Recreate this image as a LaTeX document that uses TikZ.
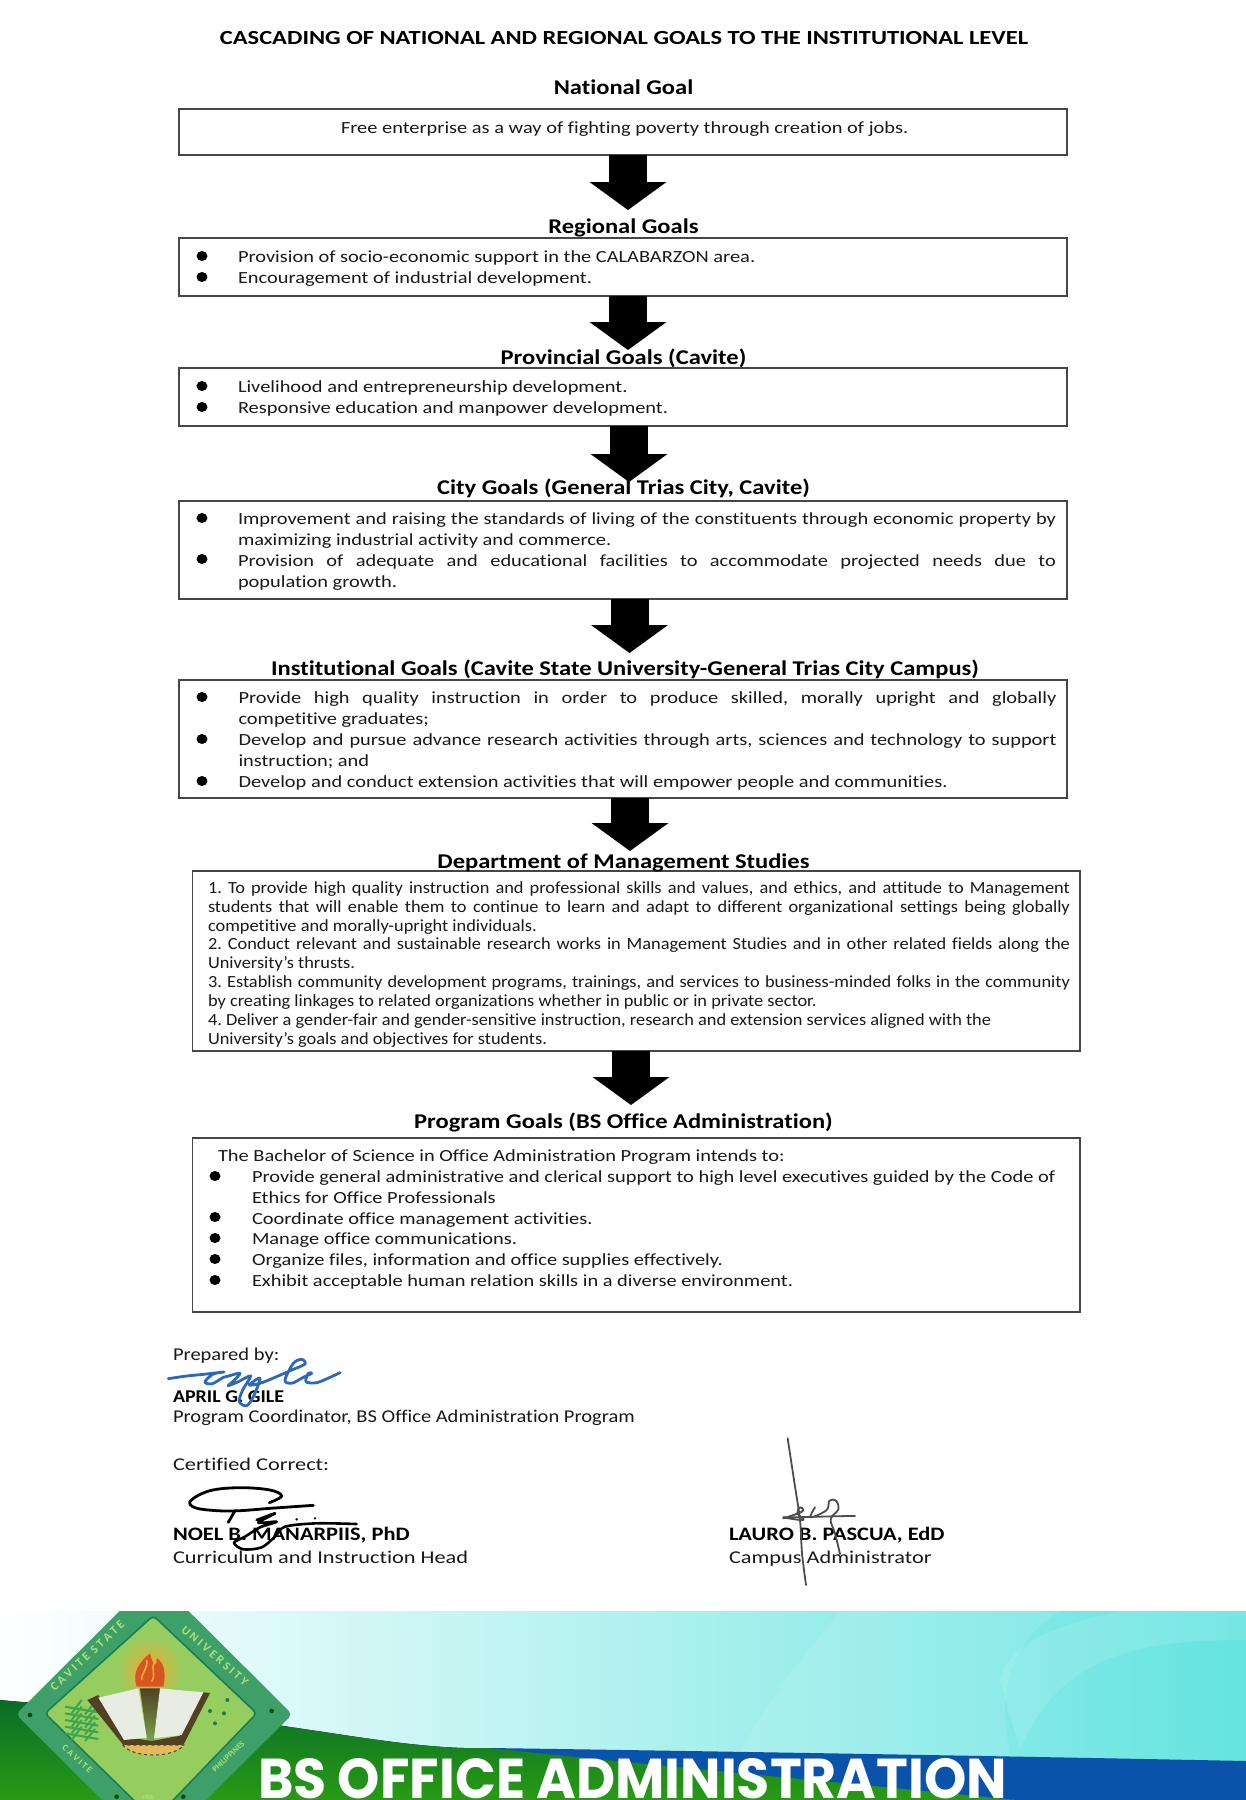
\documentclass[tikz,border=0pt]{standalone}
\usepackage{fontspec}
\usepackage{graphicx}
\usetikzlibrary{arrows.meta,calc}
\newfontfamily\cbody[FakeStretch=1.2,Ligatures=NoCommon]{Carlito}
\newfontfamily\cdept[FakeStretch=1.08,Ligatures=NoCommon]{Carlito}
\newfontfamily\chead[FakeStretch=1.167,Ligatures=NoCommon]{Carlito}
\newfontfamily\ctitle[FakeStretch=1.224,Ligatures=NoCommon]{Carlito}
\newfontfamily\csig[FakeStretch=1.14,Ligatures=NoCommon]{Carlito}
\newfontfamily\csigw[FakeStretch=1.24,Ligatures=NoCommon]{Carlito}
\newfontfamily\csigb[FakeStretch=1.18,Ligatures=NoCommon]{Carlito}
\newfontfamily\csiga[FakeStretch=1.11,Ligatures=NoCommon]{Carlito}
\newfontfamily\cplain{Carlito}
\newfontfamily\bannerf{Poppins}
\AtBeginDocument{\frenchspacing}
\definecolor{boxline}{RGB}{70,70,70}
\definecolor{ring}{RGB}{62,160,104}
\definecolor{ringdark}{RGB}{25,125,85}
\definecolor{innergreen}{RGB}{150,205,95}
\definecolor{ringtext}{RGB}{175,225,120}
\definecolor{aquaR}{RGB}{100,228,224}
\definecolor{aquaM}{RGB}{205,250,246}
\definecolor{hillT}{RGB}{10,108,40}
\definecolor{hillB}{RGB}{40,155,20}
\definecolor{bandblue}{RGB}{10,82,170}
\definecolor{sigblue}{RGB}{45,105,180}
\definecolor{sunor}{RGB}{245,170,45}
\definecolor{flame}{RGB}{215,85,35}
\definecolor{bookdark}{RGB}{80,65,35}
\definecolor{bookpage}{RGB}{232,236,226}
\definecolor{gearc}{RGB}{230,185,90}
\definecolor{leaf}{RGB}{60,165,80}
\newcounter{tln}
\newcommand\bfs{\fontsize{17}{20}\selectfont\cbody}
\newcommand\dfs{\fontsize{17}{20}\selectfont\cdept}
\newcommand\tl[3]{\stepcounter{tln}\node[txt] (t\thetln) at (#1,#2) {#3};}
\newcommand\jl[4]{\stepcounter{tln}\node[txt] (t\thetln) at (#1,#2) {\makebox[#3pt][s]{#4}};}
\newcommand\dl[3]{\stepcounter{tln}\node[txt,font=\dfs] (t\thetln) at (#1,#2) {#3};}
\newcommand\djl[4]{\stepcounter{tln}\node[txt,font=\dfs] (t\thetln) at (#1,#2) {\makebox[#3pt][s]{#4}};}
\newcommand\hd[3]{\node[headtxt] (#1) at (623.5,#2) {#3};}
\tikzset{
 txt/.style={anchor=base west,inner sep=0pt,outer sep=0pt,text=black!90,font=\bfs},
 headtxt/.style={anchor=base,inner sep=0pt,outer sep=0pt,text=black,font=\fontsize{21}{24}\selectfont\chead\bfseries},
 sigtxt/.style={anchor=base west,inner sep=0pt,outer sep=0pt,text=black!90,font=\fontsize{18}{20}\selectfont\csig},
 sigwide/.style={sigtxt,font=\fontsize{18}{20}\selectfont\csigw},
 sigbold/.style={sigtxt,text=black,font=\fontsize{19}{20}\selectfont\csigb\bfseries},
 sigbolda/.style={sigtxt,text=black,font=\fontsize{18}{20}\selectfont\csiga\bfseries},
 goalbox/.style={draw=boxline,line width=1.1pt,rectangle,inner sep=0pt,outer sep=0pt,fill=white},
 bigarrow/.style={line width=38pt,black,-{Triangle[width=77pt,length=28pt,line width=0pt]}},
 ringlabel/.style={inner sep=0pt,text=ringtext,font=\fontsize{12}{13}\selectfont\cplain\bfseries},
 bul/.style={fill=black}
}
\begin{document}
\begin{tikzpicture}[x=1pt,y=-1pt]
\useasboundingbox (0,0) rectangle (1246,1800);
\fill[white] (0,0) rectangle (1246,1800);
% --- banner
\begin{scope}
\clip (0,1611) rectangle (1246,1800);
\shade[left color=white,middle color=aquaM,right color=aquaR] (0,1611) rectangle (1246,1800);
\fill[white,opacity=.1] (840,1611) .. controls (800,1660) and (760,1710) .. (740,1755) -- (1010,1755) .. controls (1000,1700) and (1000,1650) .. (1060,1611) -- cycle;
\fill[white,opacity=.12] (1000,1680) .. controls (1010,1640) and (1060,1625) .. (1120,1611) -- (1246,1611) -- (1246,1640) .. controls (1150,1640) and (1060,1650) .. (1020,1750) -- cycle;
\fill[top color=hillT,bottom color=hillB] (0,1700) .. controls (60,1706) and (200,1712) .. (290,1727) .. controls (360,1737) and (430,1750) .. (490,1748) -- (540,1752) -- (1017,1800) -- (0,1800) -- cycle;
\fill[bandblue] (490,1748) .. controls (700,1751) and (1000,1756) .. (1246,1761) -- (1246,1800) -- (1017,1800) .. controls (920,1790) and (680,1768) .. (490,1748) -- cycle;
% logo, coordinates of a 3x crop
\begin{scope}[shift={(0,1605)},x=0.33333pt,y=-0.33333pt]
\fill[ring,rounded corners=5pt] (48,328) -- (462,-85) -- (877,328) -- (462,740) -- cycle;
\fill[innergreen,draw=ringdark,line width=1.6pt,rounded corners=4pt] (135,325) -- (460,32) -- (770,325) -- (462,645) -- cycle;
\shade[inner color=sunor,middle color=sunor!80!innergreen,outer color=innergreen] (450,195) circle (100);
\foreach \d in {(90,330),(815,318),(350,575),(550,575)} {\fill[black!70!green] \d circle (7);}
% leaves
\foreach \y in {310,330,350,370,390} {\draw[leaf,line width=2pt] (195,\y-5) -- (295,\y+12) (215,\y+15) -- (245,\y-25) (255,\y+18) -- (285,\y-18);}
% torch
\shade[top color=bookdark,bottom color=innergreen!80!black] (420,250) -- (482,250) -- (462,410) -- (442,410) -- cycle;
\fill[flame] (410,245) -- (490,245) .. controls (500,200) and (490,170) .. (470,160) .. controls (472,185) and (460,190) .. (450,145) .. controls (420,170) and (395,200) .. (410,245) -- cycle;
\draw[sunor,line width=1.6pt] (425,225) .. controls (425,200) and (445,190) .. (440,165) (455,230) .. controls (470,205) and (450,185) .. (465,170);
% book
\fill[bookdark] (262,285) -- (295,270) -- (375,395) -- (455,408) -- (540,392) -- (610,262) -- (630,264) -- (550,420) -- (370,420) -- cycle;
\fill[bookpage] (295,278) -- (415,250) -- (440,398) -- (372,405) -- cycle;
\fill[bookpage] (480,250) -- (610,262) -- (545,390) -- (462,400) -- cycle;
\fill[gearc,draw=bookdark,dashed,line width=1pt] (368,420) .. controls (400,460) and (520,460) .. (552,420) -- cycle;
\foreach \d in {(630,318),(672,325),(645,355),(682,285)} {\fill[ringdark] \d circle (6);}
\node[ringlabel,rotate=43] (lcav) at (262,152) {C A V I T E\ \ S T A T E};
\node[ringlabel,rotate=-41] (luni) at (645,152) {U N I V E R S I T Y};
\node[ringlabel,font=\fontsize{9}{10}\selectfont\cplain\bfseries,rotate=-42] (lca2) at (232,462) {C A V I T E};
\node[ringlabel,font=\fontsize{8}{9}\selectfont\cplain\bfseries,rotate=43] (lphi) at (685,455) {PHILIPPINES};
\node[ringlabel,font=\fontsize{6}{7}\selectfont\cplain\bfseries] (lyr) at (442,577) {1906};
\end{scope}
\end{scope}
\node[anchor=base west,inner sep=0pt,outer sep=0pt,text=white] (bannertext) at (258,1798) {\resizebox{749pt}{40pt}{\bannerf\bfseries BS OFFICE ADMINISTRATION}};
% --- title
\node[anchor=base,inner sep=0pt,text=black,font=\fontsize{20}{22}\selectfont\ctitle\bfseries] (title) at (624,44) {CASCADING OF NATIONAL AND REGIONAL GOALS TO THE INSTITUTIONAL LEVEL};
% --- coordinates of arrow tips
\coordinate (tip1) at (628,210);
\coordinate (tip2) at (628,350);
\coordinate (tip3) at (629,482);
\coordinate (tip4) at (629.5,653);
\coordinate (tip5) at (630,851);
\coordinate (tip6) at (631,1105);
% --- boxes
\node[goalbox,minimum width=888pt,minimum height=46pt] (b1) at (623,132) {};
\node[goalbox,minimum width=888pt,minimum height=58pt] (b2) at (623,267) {};
\node[goalbox,minimum width=888pt,minimum height=58pt] (b3) at (623,397) {};
\node[goalbox,minimum width=888pt,minimum height=98pt] (b4) at (623,550) {};
\node[goalbox,minimum width=888pt,minimum height=118pt] (b5) at (623,739) {};
\node[goalbox,minimum width=887.5pt,minimum height=180pt] (b6) at (636.25,961) {};
\node[goalbox,minimum width=887.5pt,minimum height=174pt] (b7) at (636.25,1225) {};
% --- arrows
\draw[bigarrow] (b1.south -| tip1) -- (tip1);
\draw[bigarrow] (b2.south -| tip2) -- (tip2);
\draw[bigarrow] (b3.south -| tip3) -- (tip3);
\draw[bigarrow] (b4.south -| tip4) -- (tip4);
\draw[bigarrow] (b5.south -| tip5) -- (tip5);
\draw[bigarrow] (b6.south -| tip6) -- (tip6);
% --- headings
\hd{h1}{94}{National Goal}
\hd{h2}{233}{Regional Goals}
\hd{h3}{364}{Provincial Goals (Cavite)}
\hd{h4}{494}{City Goals (General Trias City, Cavite)}
\node[headtxt] (h5) at (625,675) {Institutional Goals (Cavite State University-General Trias City Campus)};
\hd{h6}{868}{Department of Management Studies}
\hd{h7}{1128}{Program Goals (BS Office Administration)}
% --- bullets
\foreach \x/\y in {202/256,202/277,202/386,202/407,202/518,202/559,202/697,202/739,202/781,215/1176,215/1217,215/1238,215/1259,215/1280}
 {\fill[bul] (\x,\y) ellipse (5.5 and 5);}
% --- box texts
\tl{341}{133}{Free enterprise as a way of fighting poverty through creation of jobs.}
\tl{238}{262}{Provision of socio-economic support in the CALABARZON area.}
\tl{238}{283}{Encouragement of industrial development.}
\tl{238}{392}{Livelihood and entrepreneurship development.}
\tl{238}{413}{Responsive education and manpower development.}
\jl{238}{524}{818}{Improvement and raising the standards of living of the constituents through economic property by}
\tl{238}{545}{maximizing industrial activity and commerce.}
\jl{238}{566}{818}{Provision of adequate and educational facilities to accommodate projected needs due to}
\tl{238}{587}{population growth.}
\jl{238.5}{703}{818}{Provide high quality instruction in order to produce skilled, morally upright and globally}
\tl{238.5}{724}{competitive graduates;}
\jl{238.5}{745}{818}{Develop and pursue advance research activities through arts, sciences and technology to support}
\tl{238.5}{766}{instruction; and}
\tl{238.5}{787}{Develop and conduct extension activities that will empower people and communities.}
\djl{208}{893}{862}{1. To provide high quality instruction and professional skills and values, and ethics, and attitude to Management}
\djl{208}{912}{862}{students that will enable them to continue to learn and adapt to different organizational settings being globally}
\dl{208}{931}{competitive and morally-upright individuals.}
\djl{208}{949}{862}{2. Conduct relevant and sustainable research works in Management Studies and in other related fields along the}
\dl{208}{968}{University’s thrusts.}
\djl{208}{987}{862}{3. Establish community development programs, trainings, and services to business-minded folks in the community}
\dl{208}{1006}{by creating linkages to related organizations whether in public or in private sector.}
\dl{208}{1025}{4. Deliver a gender-fair and gender-sensitive instruction, research and extension services aligned with the}
\dl{208}{1044}{University’s goals and objectives for students.}
\tl{218}{1161}{The Bachelor of Science in Office Administration Program intends to:}
\tl{252}{1182}{Provide general administrative and clerical support to high level executives guided by the Code of}
\tl{252}{1203}{Ethics for Office Professionals}
\tl{252}{1224}{Coordinate office management activities.}
\tl{252}{1244}{Manage office communications.}
\tl{252}{1265}{Organize files, information and office supplies effectively.}
\tl{252}{1286}{Exhibit acceptable human relation skills in a diverse environment.}
% --- signature block
\node[sigtxt] (s1) at (173,1360) {Prepared by:};
\node[sigbolda] (s2) at (173,1402) {APRIL G. GILE};
\node[sigtxt] (s3) at (173,1422) {Program Coordinator, BS Office Administration Program};
\node[sigwide] (s4) at (173,1470) {Certified Correct:};
\node[sigbold] (s5) at (173,1540) {NOEL B. MANARPIIS, PhD};
\node[sigwide] (s6) at (173,1563) {Curriculum and Instruction Head};
\node[sigbold] (s7) at (729,1540) {LAURO B. PASCUA, EdD};
\node[sigwide] (s8) at (729,1563) {Campus Administrator};
% signatures in 3x crop coordinates
\begin{scope}[shift={(160,1340)},x=0.33333pt,y=-0.33333pt]
\draw[sigblue,line width=2.8pt,line cap=round,line join=round] plot[smooth,tension=.55] coordinates {(25,116) (80,108) (130,103) (192,96) (160,102) (135,125) (155,132) (190,112) (205,108) (240,100) (218,125) (205,137) (235,125) (272,108) (248,150) (238,185) (260,197) (280,170) (300,115) (268,135) (300,130) (345,112) (395,90) (435,72) (425,58) (400,70) (375,120) (395,130) (430,112) (455,100) (445,100) (438,125) (470,128) (510,112) (540,98)};
\draw[black,line width=2.8pt,line cap=round,line join=round] plot[smooth,tension=.6] coordinates {(328,488) (365,468) (330,450) (240,443) (150,452) (92,482) (105,503) (170,512) (240,512) (330,505) (460,496)};
\draw[black,line width=2.8pt,line cap=round] (205,547) -- (225,512);
\draw[black,line width=2.6pt,line cap=round,line join=round] plot[smooth,tension=.5] coordinates {(290,540) (345,520) (295,548) (350,545) (300,562) (255,590) (222,608) (250,628) (305,622) (345,590) (375,560) (470,550) (590,552)};
\fill[black] (410,538) circle (4) (465,535) circle (4);
\end{scope}
\begin{scope}[shift={(720,1430)},x=0.33333pt,y=-0.33333pt]
\draw[black!70,line width=1.8pt,line cap=round] plot[smooth] coordinates {(203,25) (222,150) (240,270) (246,370) (258,465)};
\draw[black!70,line width=1.9pt,line cap=round,line join=round] plot[smooth,tension=.6] coordinates {(190,265) (235,250) (250,240) (240,232) (232,250) (250,270) (190,262)};
\draw[black!70,line width=1.8pt,line cap=round] (190,262) .. controls (260,262) and (340,258) .. (405,258);
\draw[black!70,line width=1.8pt,line cap=round,line join=round] plot[smooth,tension=.6] coordinates {(285,232) (272,262) (320,240) (328,212) (348,212) (355,238) (332,268) (345,310) (360,372)};
\end{scope}
\end{tikzpicture}
\end{document}
